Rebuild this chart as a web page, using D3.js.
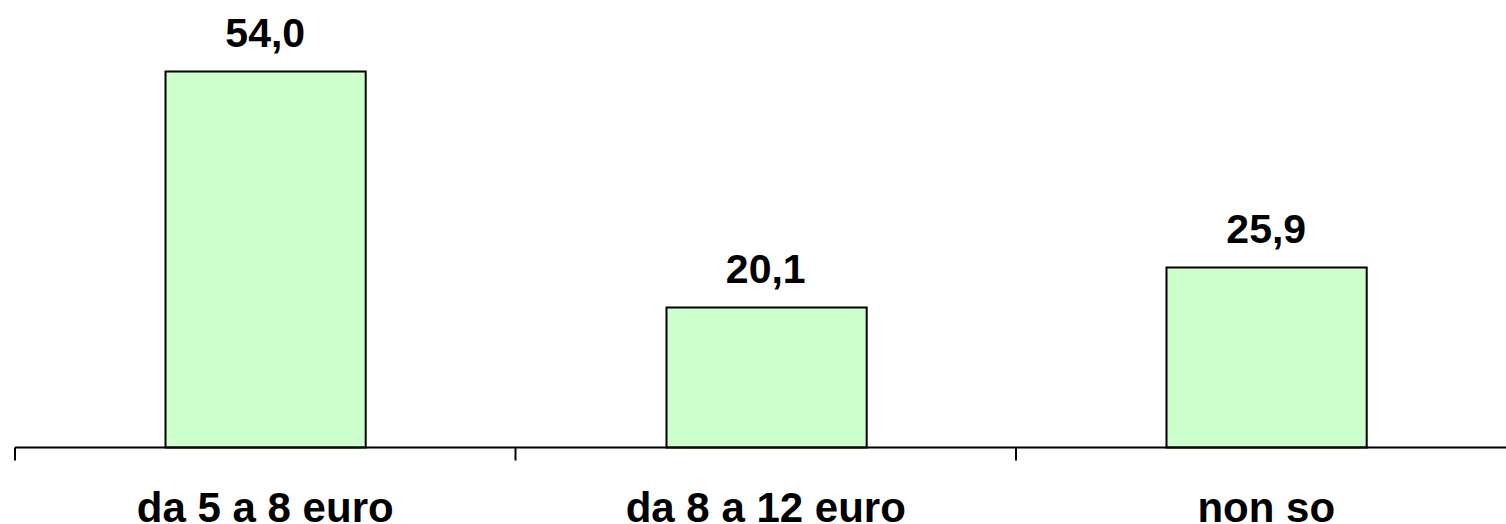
<!doctype html>
<html lang="it">
<head>
    <meta charset="UTF-8">
    <title>Bar chart</title>
    <script type="text/javascript" src="https://cdn.jsdelivr.net/npm/d3@7/dist/d3.min.js"></script>
    <style type="text/css">
        body { margin: 0; background: #fff; }
        svg { display: block; }
    </style>
</head>
<body>
<script type="text/javascript">
    var categories = ["da 5 a 8 euro", "da 8 a 12 euro", "non so"];
    var values = [54.0, 20.1, 25.9];
    var value_labels = ["54,0", "20,1", "25,9"];

    var width = 1506;
    var height = 524;
    var base_y = 447.5;

    var x_scale = d3.scaleBand()
        .domain(categories)
        .range([15, 1516.5])
        .paddingInner(0.6)
        .paddingOuter(0.3);

    var y_scale = d3.scaleLinear()
        .domain([0, 54.0])
        .range([base_y, 71]);

    var svg = d3.select("body").append("svg").attr("width", width).attr("height", height);

    // bars
    svg.selectAll("rect.bar")
        .data(values)
        .enter()
        .append("rect")
        .attr("class", "bar")
        .attr("x", function (d, i) { return Math.round(x_scale(categories[i])) + 0.5; })
        .attr("y", function (d) { return Math.round(y_scale(d)) + 0.5; })
        .attr("width", x_scale.bandwidth())
        .attr("height", function (d) { return base_y - Math.round(y_scale(d)) - 0.5; })
        .attr("fill", "#ccffcc")
        .attr("stroke", "#000")
        .attr("stroke-width", 2);

    // axis line and ticks
    var step = x_scale.step();
    var x0 = 15;
    svg.append("line")
        .attr("x1", x0).attr("x2", width)
        .attr("y1", base_y).attr("y2", base_y)
        .attr("stroke", "#000").attr("stroke-width", 2);

    svg.selectAll("line.tick")
        .data(d3.range(categories.length))
        .enter()
        .append("line")
        .attr("class", "tick")
        .attr("x1", function (i) { return x0 + i * step; })
        .attr("x2", function (i) { return x0 + i * step; })
        .attr("y1", base_y).attr("y2", base_y + 13)
        .attr("stroke", "#000").attr("stroke-width", 2);

    // value labels
    svg.selectAll("text.val")
        .data(values)
        .enter()
        .append("text")
        .attr("class", "val")
        .text(function (d, i) { return value_labels[i]; })
        .attr("x", function (d, i) { return x_scale(categories[i]) + x_scale.bandwidth() / 2; })
        .attr("y", function (d) { return y_scale(d) - 24; })
        .attr("text-anchor", "middle")
        .attr("font-family", "Liberation Sans, Arial, sans-serif")
        .attr("font-weight", "bold")
        .attr("font-size", "41px")
        .attr("fill", "#000");

    // category labels
    svg.selectAll("text.cat")
        .data(categories)
        .enter()
        .append("text")
        .attr("class", "cat")
        .text(function (d) { return d; })
        .attr("x", function (d) { return x_scale(d) + x_scale.bandwidth() / 2; })
        .attr("y", 522)
        .attr("text-anchor", "middle")
        .attr("font-family", "Liberation Sans, Arial, sans-serif")
        .attr("font-weight", "bold")
        .attr("font-size", "42px")
        .attr("fill", "#000");
</script>
</body>
</html>
